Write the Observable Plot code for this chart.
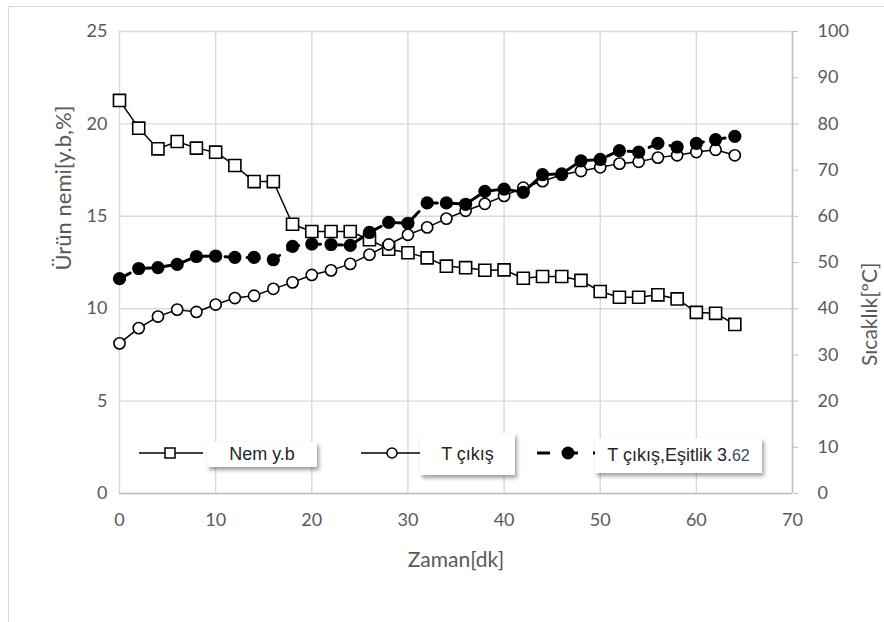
<!DOCTYPE html>
<html>
<head>
<meta charset="utf-8">
<script src="https://cdn.jsdelivr.net/npm/d3@7"></script>
<script src="https://cdn.jsdelivr.net/npm/@observablehq/plot@0.6"></script>
<style>
  html, body { margin: 0; padding: 0; background: #fff; }
  #wrap { position: relative; width: 884px; height: 622px; overflow: hidden; background: #fff; }
  #frame { position: absolute; left: 8px; top: 6px; width: 900px; height: 700px; border-left: 1px solid #d9d9d9; border-top: 1px solid #d9d9d9; pointer-events: none; }
  #chart { position: absolute; left: 0; top: 0; }
  #legend { position: absolute; left: 0; top: 0; width: 884px; height: 622px; pointer-events: none; }
  .box { position: absolute; background: #fff; box-shadow: 2px 3px 4px rgba(0,0,0,0.38);
         font-family: "Liberation Sans", Arial, sans-serif; font-size: 18px; color: #262626;
         display: flex; align-items: center; justify-content: center; white-space: nowrap; }
</style>
</head>
<body>
<div id="wrap">
  <div id="chart"></div>
  <div id="frame"></div>
  <svg id="legend" width="884" height="622"></svg>
</div>
<script>
// ---- data ----
const zaman = [0,2,4,6,8,10,12,14,16,18,20,22,24,26,28,30,32,34,36,38,40,42,44,46,48,50,52,54,56,58,60,62,64];
const nemYb = [21.27,19.77,18.65,19.05,18.69,18.47,17.75,16.88,16.88,14.57,14.18,14.18,14.18,13.73,13.22,13.03,12.75,12.3,12.22,12.08,12.1,11.65,11.74,11.74,11.53,10.93,10.62,10.62,10.75,10.53,9.8,9.75,9.15];
const tCikis = [32.5,35.8,38.3,39.8,39.3,40.9,42.3,42.8,44.3,45.7,47.3,48.3,49.7,51.7,53.9,56.0,57.6,59.5,61.2,62.7,64.4,66.2,67.6,69.0,69.8,70.6,71.4,71.8,72.7,73.2,73.9,74.4,73.2];
const tEsitlik = [46.5,48.7,48.9,49.6,51.3,51.4,51.1,51.1,50.6,53.5,54.0,53.9,53.7,56.5,58.7,58.5,62.9,62.9,62.6,65.4,65.9,65.2,69.0,69.2,72.0,72.3,74.2,73.9,75.8,75.0,75.8,76.6,77.3];
const xTicks = [0,10,20,30,40,50,60,70];
const yLeftTicks = [0,5,10,15,20,25];
const yRightTicks = [0,10,20,30,40,50,60,70,80,90,100];
const seriesNames = ["Nem y.b", "T çıkış", "T çıkış,Eşitlik 3."];
const xTitle = "Zaman[dk]";
const yLeftTitle = "Ürün nemi[y.b,%]";
const yRightTitle = "Sıcaklık[ºC]";

const rows = zaman.map((t, i) => ({t, nem: nemYb[i], tc: tCikis[i], te: tEsitlik[i]}));
const k = 25 / 100; // right axis (°C) mapped onto left scale

const grey = "#595959";
const chart = Plot.plot({
  width: 884, height: 622,
  marginLeft: 119, marginRight: 92, marginTop: 31, marginBottom: 129,
  x: {domain: [0, 70]},
  y: {domain: [0, 25]},
  style: {fontFamily: "Lato, 'Open Sans', sans-serif", background: "transparent"},
  marks: [
    Plot.gridX(xTicks, {stroke: "#d9d9d9", strokeOpacity: 1, strokeWidth: 1.4}),
    Plot.gridY(yLeftTicks, {stroke: "#d9d9d9", strokeOpacity: 1, strokeWidth: 1.4}),
    Plot.ruleY([0], {stroke: "#bfbfbf", strokeWidth: 1.4}),
    Plot.ruleX([70], {stroke: "#bfbfbf", strokeWidth: 1.4}),
    Plot.axisX(xTicks, {tickSize: 0, tickPadding: 20, fontSize: 18, fill: grey, label: null}),
    Plot.axisY(yLeftTicks, {anchor: "left", tickSize: 0, tickPadding: 12, fontSize: 18, fill: grey, label: null}),
    Plot.axisY(yRightTicks.map(v => v * k), {anchor: "right", tickSize: 5, tickPadding: 20, stroke: "#bfbfbf", fontSize: 18, fill: grey, label: null, tickFormat: d => Math.round(d / k)}),
    Plot.text([xTitle], {frameAnchor: "bottom", dy: 67, fontSize: 21, fill: grey, lineAnchor: "middle"}),
    Plot.text([yLeftTitle], {frameAnchor: "left", dx: -56, dy: 8, rotate: -90, fontSize: 22, fill: grey, lineAnchor: "middle"}),
    Plot.text([yRightTitle], {frameAnchor: "right", dx: 78, dy: 0, rotate: -90, fontSize: 21, fill: grey, lineAnchor: "middle"}),
    // Nem y.b
    Plot.line(rows, {x: "t", y: "nem", stroke: "#000", strokeWidth: 1.5}),
    Plot.dot(rows, {x: "t", y: "nem", symbol: "square", r: 6.8, stroke: "#000", fill: "#fff", strokeWidth: 1.6}),
    // T çıkış
    Plot.line(rows, {x: "t", y: d => d.tc * k, stroke: "#000", strokeWidth: 1.5}),
    Plot.dot(rows, {x: "t", y: d => d.tc * k, r: 5.6, stroke: "#000", fill: "#fff", strokeWidth: 1.6}),
    // T çıkış, Eşitlik 3.62
    Plot.line(rows, {x: "t", y: d => d.te * k, stroke: "#000", strokeWidth: 3, strokeDasharray: "12,10"}),
    Plot.dot(rows, {x: "t", y: d => d.te * k, r: 6.6, fill: "#000", stroke: "none"})
  ]
});
document.getElementById("chart").appendChild(chart);

// ---- legend ----
const lg = d3.select("#legend");
const ly = 453;
lg.append("line").attr("x1", 139).attr("x2", 203).attr("y1", ly).attr("y2", ly).attr("stroke", "#000").attr("stroke-width", 1.5);
lg.append("rect").attr("x", 165).attr("y", ly - 5).attr("width", 10).attr("height", 10).attr("fill", "#fff").attr("stroke", "#000").attr("stroke-width", 1.5);
lg.append("line").attr("x1", 361).attr("x2", 420).attr("y1", ly).attr("y2", ly).attr("stroke", "#000").attr("stroke-width", 1.5);
lg.append("circle").attr("cx", 392).attr("cy", ly).attr("r", 5).attr("fill", "#fff").attr("stroke", "#000").attr("stroke-width", 1.5);
lg.append("line").attr("x1", 537).attr("x2", 600).attr("y1", ly).attr("y2", ly).attr("stroke", "#000").attr("stroke-width", 3).attr("stroke-dasharray", "13,15");
lg.append("circle").attr("cx", 568).attr("cy", ly).attr("r", 6.5).attr("fill", "#000");

const wrap = document.getElementById("wrap");
function box(x, y, w, h, html) {
  const d = document.createElement("div");
  d.className = "box";
  d.style.left = x + "px"; d.style.top = y + "px";
  d.style.width = w + "px"; d.style.height = h + "px";
  d.innerHTML = html;
  wrap.appendChild(d);
}
box(207, 442, 110, 25, seriesNames[0]);
box(420, 433, 95, 42, seriesNames[1]);
box(595, 438, 167, 35, seriesNames[2] + '<span style="color:#3b4a6b;font-size:16px">62</span>');
</script>
</body>
</html>
